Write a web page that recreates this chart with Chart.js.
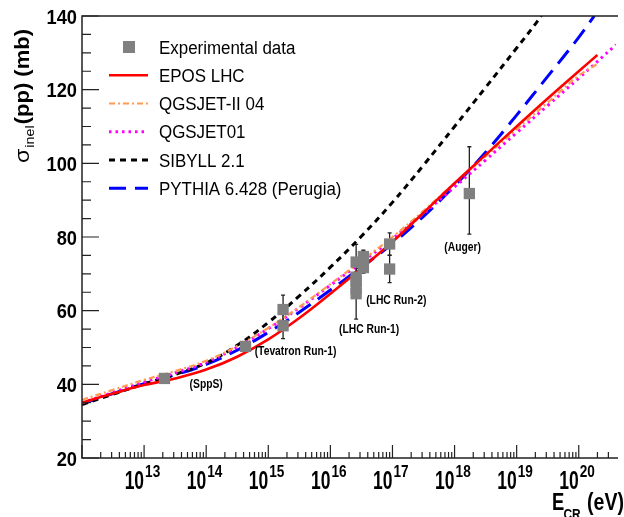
<!DOCTYPE html>
<html>
<head>
<meta charset="utf-8">
<script src="https://cdn.jsdelivr.net/npm/chart.js@4/dist/chart.umd.min.js"></script>
<style>
html, body { margin: 0; padding: 0; background: #fff; overflow: hidden; }
#wrap { width: 624px; height: 517px; }
</style>
</head>
<body>
<div id="wrap"><canvas id="c" width="624" height="517"></canvas></div>
<script>
// model curves: log10(E_CR / eV) and sigma_inel(pp) in mb
var eposLg = [12, 12.5, 13, 13.5, 14, 14.5, 15, 15.5, 16, 16.5, 17, 17.5, 18, 18.5, 19, 19.5, 20, 20.3];
var eposSig = [35.0, 37.5, 39.8, 41.6, 44.0, 47.5, 52.2, 58.0, 64.6, 71.5, 78.7, 86.6, 94.6, 102.3, 110.0, 117.6, 125.0, 129.4];

var qgs2Lg = [12, 12.5, 13, 13.5, 14, 14.5, 15, 15.5, 16, 16.5, 17, 17.5, 18, 18.5, 19, 19.5, 20, 20.3];
var qgs2Sig = [35.8, 38.5, 41.2, 43.6, 46.4, 50.4, 55.3, 61.0, 67.2, 73.5, 80.0, 87.1, 94.6, 101.9, 109.2, 116.5, 123.8, 127.0];

var qgs1Lg = [12, 12.5, 13, 13.5, 14, 14.5, 15, 15.5, 16, 16.5, 17, 17.5, 18, 18.5, 19, 19.5, 20, 20.6];
var qgs1Sig = [35.0, 37.8, 40.6, 43.1, 46.0, 50.1, 55.1, 60.8, 66.9, 73.1, 79.5, 86.4, 93.6, 100.9, 108.3, 115.7, 123.1, 132.2];

var sibLg = [12, 12.5, 13, 13.5, 14, 14.5, 15, 15.5, 16, 16.5, 17, 17.5, 18, 18.5, 19, 19.3, 19.4];
var sibSig = [34.5, 37.3, 40.1, 42.7, 45.8, 50.6, 56.8, 64.0, 71.8, 80.2, 89.4, 99.5, 110.0, 120.6, 131.3, 137.8, 140.2];

var pyLg = [12, 12.5, 13, 13.5, 14, 14.5, 15, 15.5, 16, 16.5, 17, 17.5, 18, 18.5, 19, 19.5, 20, 20.25];
var pySig = [34.7, 37.5, 40.2, 42.6, 45.4, 49.3, 54.1, 59.6, 65.6, 71.8, 78.2, 85.6, 93.9, 103.0, 113.1, 123.6, 134.2, 140.0];

// experimental points: energy (eV), sigma, lower and upper error
var expE = [2.13e13, 4.3e14, 1.73e15, 1.73e15, 2.6e16, 2.6e16, 2.6e16, 2.6e16, 2.6e16, 3.4e16, 3.4e16, 9.0e16, 9.0e16, 1.73e18];
var expSig = [41.6, 50.3, 60.3, 55.9, 73.2, 69.1, 68.0, 66.0, 64.6, 74.7, 71.7, 78.1, 71.3, 91.8];
var expLo = [0.8, 0.6, 3.9, 3.5, 5.3, 2.4, 2.5, 2.0, 6.9, 1.7, 1.5, 3.0, 3.7, 11.0];
var expHi = [0.8, 0.6, 3.9, 3.5, 4.8, 2.4, 2.5, 2.0, 2.0, 1.7, 1.5, 3.0, 3.7, 12.7];

// axis ticks
var yTicks = [20, 40, 60, 80, 100, 120, 140];
var yMinor = [25, 30, 35, 45, 50, 55, 65, 70, 75, 85, 90, 95, 105, 110, 115, 125, 130, 135];
var xExps = [13, 14, 15, 16, 17, 18, 19, 20];

// experiment labels: [text, energy, sigma]
var notes = [
  ['(SppS)', 1.0e14, 40.2],
  ['(Tevatron Run-1)', 2.75e15, 49.0],
  ['(LHC Run-1)', 4.2e16, 54.9],
  ['(LHC Run-2)', 1.15e17, 62.9],
  ['(Auger)', 1.35e18, 77.3]
];

function pts(lg, sig) {
  return lg.map(function (v, i) { return { x: Math.pow(10, v), y: sig[i] }; });
}

function txt(ctx, s, x, y, font, sx, align) {
  ctx.save();
  ctx.font = font;
  ctx.textAlign = align || 'left';
  ctx.textBaseline = 'alphabetic';
  ctx.translate(x, y);
  ctx.scale(sx, 1);
  ctx.fillText(s, 0, 0);
  ctx.restore();
}

var frame = {
  id: 'frame',
  beforeDatasetsDraw: function (chart) {
    var ctx = chart.ctx, xs = chart.scales.x, ys = chart.scales.y;
    ctx.save();
    ctx.strokeStyle = '#222';
    ctx.lineWidth = 1.3;
    for (var i = 0; i < expE.length; i++) {
      var px = xs.getPixelForValue(expE[i]);
      var top = ys.getPixelForValue(expSig[i] + expHi[i]);
      var bot = ys.getPixelForValue(expSig[i] - expLo[i]);
      ctx.beginPath();
      ctx.moveTo(px, top); ctx.lineTo(px, bot);
      ctx.moveTo(px - 2, top); ctx.lineTo(px + 2, top);
      ctx.moveTo(px - 2, bot); ctx.lineTo(px + 2, bot);
      ctx.stroke();
    }
    ctx.restore();
  },
  afterDraw: function (chart) {
    var ctx = chart.ctx, xs = chart.scales.x, ys = chart.scales.y, a = chart.chartArea;
    ctx.save();
    ctx.fillStyle = '#000';
    ctx.strokeStyle = '#222';
    ctx.lineWidth = 1.5;
    ctx.beginPath();
    ctx.moveTo(a.right + 2, a.top); ctx.lineTo(a.left, a.top);
    ctx.lineTo(a.left, a.bottom); ctx.lineTo(a.right + 2, a.bottom);
    ctx.stroke();

    // y ticks inside
    ctx.lineWidth = 1.2;
    ctx.beginPath();
    yTicks.forEach(function (v) {
      var py = ys.getPixelForValue(v);
      ctx.moveTo(a.left, py); ctx.lineTo(a.left + 17, py);
    });
    yMinor.forEach(function (v) {
      var py = ys.getPixelForValue(v);
      ctx.moveTo(a.left, py); ctx.lineTo(a.left + 9, py);
    });
    // x ticks inside
    for (var d = 12; d <= 20; d++) {
      for (var m = 1; m <= 9; m++) {
        var e = m * Math.pow(10, d);
        if (e < xs.min || e > xs.max) continue;
        var px = xs.getPixelForValue(e);
        ctx.moveTo(px, a.bottom); ctx.lineTo(px, a.bottom - (m === 1 ? 13 : 6));
      }
    }
    ctx.stroke();

    // tick labels
    yTicks.forEach(function (v) {
      txt(ctx, String(v), 77, ys.getPixelForValue(v) + 7.5, 'bold 21px "Liberation Sans", Arial', 0.87, 'right');
    });
    xExps.forEach(function (n) {
      var px = xs.getPixelForValue(Math.pow(10, n));
      txt(ctx, '10', px, 489, 'bold 25px "Liberation Sans", Arial', 0.7, 'right');
      txt(ctx, String(n), px + 1, 477, 'bold 17px "Liberation Sans", Arial', 0.8, 'left');
    });

    // axis titles
    txt(ctx, 'E', 552, 510, 'bold 23px "Liberation Sans", Arial', 0.8, 'left');
    txt(ctx, 'CR', 563.5, 519, 'bold 14px "Liberation Sans", Arial', 0.85, 'left');
    txt(ctx, '(eV)', 587, 510, 'bold 23px "Liberation Sans", Arial', 0.85, 'left');

    ctx.save();
    ctx.translate(29, 163);
    ctx.rotate(-Math.PI / 2);
    ctx.scale(1.1, 1);
    ctx.textAlign = 'left';
    ctx.font = '21px "Liberation Sans", Arial';
    ctx.fillText('\u03c3', 0, 0);
    var w = ctx.measureText('\u03c3').width + 1;
    ctx.font = '13px "Liberation Sans", Arial';
    ctx.fillText('inel', w, 5);
    w += ctx.measureText('inel').width + 1;
    ctx.font = 'bold 20px "Liberation Sans", Arial';
    ctx.fillText('(pp) (mb)', w, 0);
    ctx.restore();

    // experiment labels
    notes.forEach(function (n) {
      txt(ctx, n[0], xs.getPixelForValue(n[1]), ys.getPixelForValue(n[2]) + 4, 'bold 12px "Liberation Sans", Arial', 0.86, 'center');
    });

    // legend
    var ds = chart.data.datasets;
    for (var i = 0; i < ds.length; i++) {
      var ly = 47 + i * 28.25;
      if (i === 0) {
        ctx.fillStyle = ds[0].backgroundColor;
        ctx.fillRect(123, ly - 6, 12, 12);
      } else {
        ctx.save();
        ctx.strokeStyle = ds[i].borderColor;
        ctx.lineWidth = ds[i].borderWidth;
        ctx.setLineDash(ds[i].borderDash || []);
        ctx.beginPath();
        ctx.moveTo(109, ly); ctx.lineTo(148, ly);
        ctx.stroke();
        ctx.restore();
      }
      ctx.fillStyle = '#000';
      txt(ctx, ds[i].label, 159, ly + 6.5, '18px "Liberation Sans", Arial', 0.94, 'left');
    }
    ctx.restore();
  }
};

function curve(label, lg, sig, color, width, dash) {
  return {
    type: 'line', label: label, data: pts(lg, sig),
    borderColor: color, borderWidth: width, borderDash: dash,
    pointRadius: 0, fill: false, tension: 0.4, order: 1
  };
}

new Chart(document.getElementById('c'), {
  type: 'scatter',
  data: {
    datasets: [
      {
        type: 'scatter', label: 'Experimental data',
        data: expE.map(function (e, i) { return { x: e, y: expSig[i] }; }),
        pointStyle: 'rect', pointRadius: 8, backgroundColor: '#808080',
        borderWidth: 0, order: 0
      },
      curve('EPOS LHC', eposLg, eposSig, '#ff0000', 2.6, []),
      curve('QGSJET-II 04', qgs2Lg, qgs2Sig, '#ff9a50', 2.2, [6, 3, 2, 3]),
      curve('QGSJET01', qgs1Lg, qgs1Sig, '#ff00ff', 3, [2.5, 4]),
      curve('SIBYLL 2.1', sibLg, sibSig, '#000000', 3, [6, 5]),
      curve('PYTHIA 6.428 (Perugia)', pyLg, pySig, '#0000ff', 3, [17, 9])
    ]
  },
  options: {
    responsive: false,
    animation: false,
    devicePixelRatio: 1,
    layout: { padding: { left: 82, top: 16, right: 0, bottom: 59 } },
    scales: {
      x: { type: 'logarithmic', display: false, min: 1e12, max: 3.98e20 },
      y: { type: 'linear', display: false, min: 20, max: 140 }
    },
    plugins: { legend: { display: false }, tooltip: { enabled: false } }
  },
  plugins: [frame]
});
</script>
</body>
</html>
